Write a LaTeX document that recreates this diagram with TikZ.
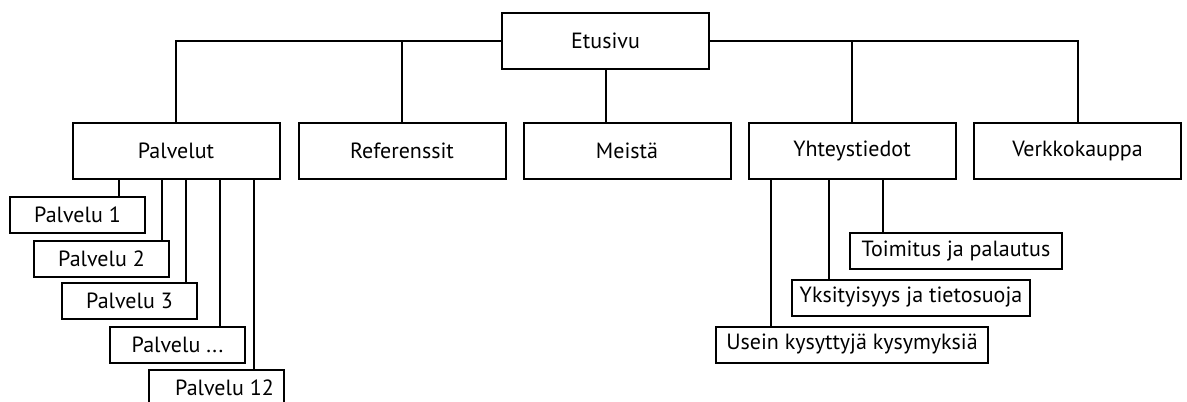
\documentclass[tikz,border=0pt]{standalone}
\usepackage{fontspec}
\setmainfont{PT Sans}
\tikzset{
  page/.style={draw, line width=1.5pt, fill=white, minimum width=155.25pt, minimum height=42pt, inner sep=0pt, font=\fontsize{16.5}{18}\selectfont},
  subpage/.style={draw, line width=1.5pt, fill=white, minimum height=27pt, inner sep=0pt, font=\fontsize{16.5}{18}\selectfont},
  link/.style={line width=1.5pt}
}
\begin{document}
\begin{tikzpicture}[x=0.75pt,y=0.75pt,yscale=-1,xscale=1]
\useasboundingbox (0,0) rectangle (1187,401);
% Etusivu
\node [page] (etusivu) at (605.5,41) {Etusivu};
% Paatason sivut
\node [page] (palvelut) at (176,150.5) {Palvelut};
\node [page] (referenssit) at (402,150.5) {Referenssit};
\node [page] (meista) at (627,150.5) {Meistä};
\node [page] (yhteystiedot) at (852,150.5) {Yhteystiedot};
\node [page] (verkkokauppa) at (1077.5,150.5) {Verkkokauppa};
% Palvelut alasivut
\node [subpage, minimum width=101.25pt] (palvelu1) at (77.5,215) {Palvelu 1};
\node [subpage, minimum width=101.25pt] (palvelu2) at (101.5,258.5) {Palvelu 2};
\node [subpage, minimum width=101.25pt] (palvelu3) at (129.5,301) {Palvelu 3};
\node [subpage, minimum width=101.25pt] (palvelux) at (177.5,344.5) {Palvelu ...};
\node [subpage, minimum width=101.25pt] (palvelu12) at (216.5,387.5) {\hspace{12pt}Palvelu 12};
% Yhteystiedot alasivut
\node [subpage, minimum width=159pt] (toimitus) at (956,251) {Toimitus ja palautus};
\node [subpage, minimum width=178.5pt] (tietosuoja) at (911,297.5) {Yksityisyys ja tietosuoja};
\node [subpage, minimum width=204pt] (ukk) at (852,344.5) {Usein kysyttyjä kysymyksiä};
% Yhteydet
\draw [link] (etusivu.west) -| (palvelut.north);
\draw [link] (etusivu.east) -| (verkkokauppa.north);
\draw [link] (referenssit.north) -- (referenssit.north |- etusivu.west);
\draw [link] (yhteystiedot.north) -- (yhteystiedot.north |- etusivu.east);
\draw [link] (etusivu.south) -- (etusivu.south |- meista.north);
\foreach \sivu/\x in {palvelu1/119, palvelu2/162, palvelu3/186, palvelux/220, palvelu12/254}
  \draw [link] (\x,0 |- palvelut.south) -- (\x,0 |- \sivu.north);
\foreach \sivu/\x in {ukk/771, tietosuoja/829, toimitus/883}
  \draw [link] (\x,0 |- yhteystiedot.south) -- (\x,0 |- \sivu.north);
\end{tikzpicture}
\end{document}
